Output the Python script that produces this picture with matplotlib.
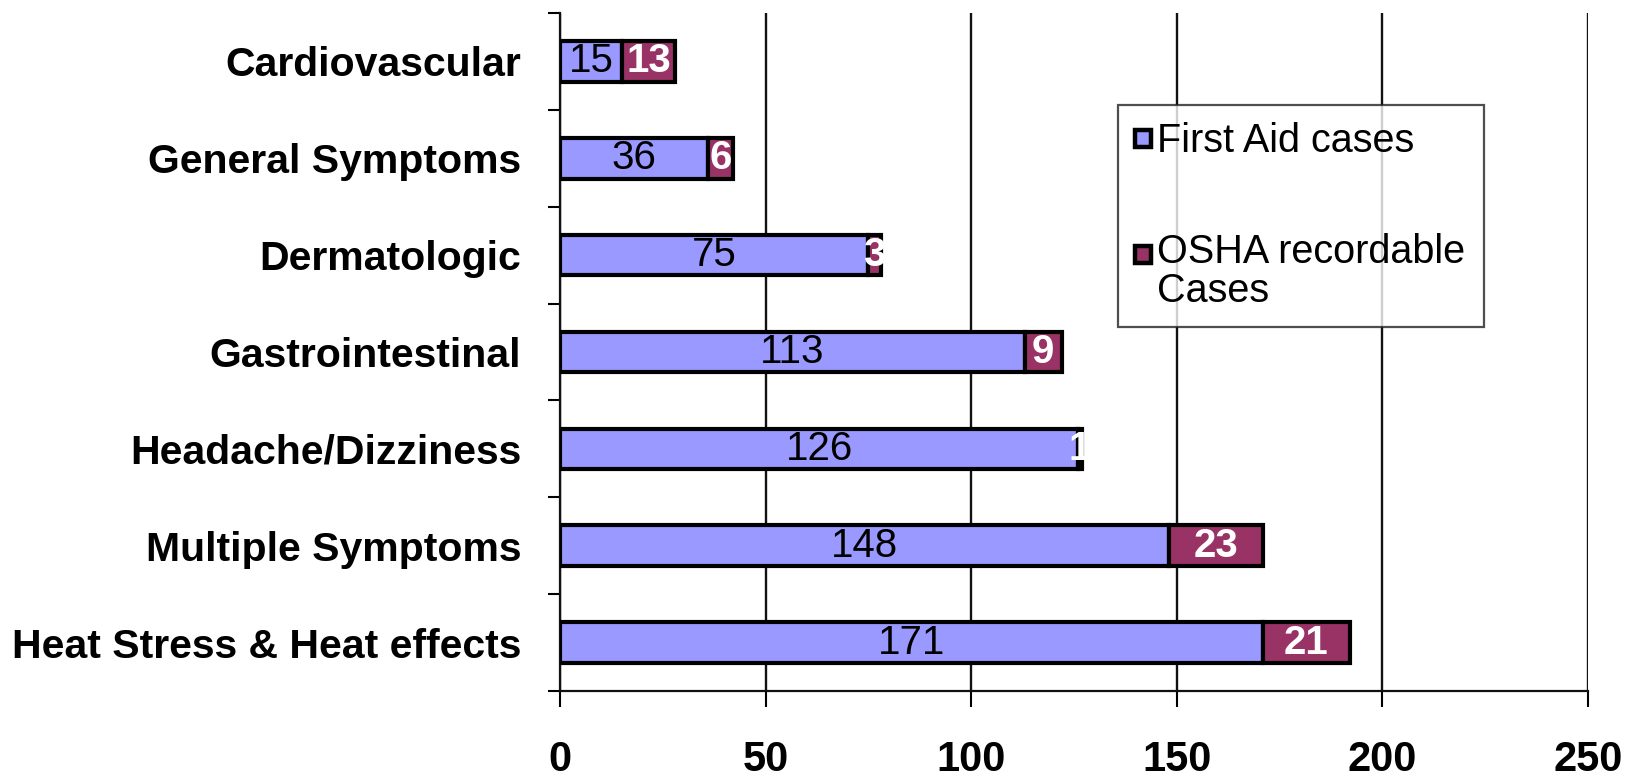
import matplotlib
import matplotlib.pyplot as plt
from matplotlib.legend_handler import HandlerPatch
from matplotlib.patches import Patch, Rectangle
from matplotlib.ticker import FixedLocator

matplotlib.use("Agg")

plt.rcParams["font.family"] = ["Liberation Sans", "DejaVu Sans"]

# Категории сверху вниз
categories = [
    "Cardiovascular",
    "General Symptoms",
    "Dermatologic",
    "Gastrointestinal",
    "Headache/Dizziness",
    "Multiple Symptoms",
    "Heat Stress & Heat effects",
]
first_aid = [15, 36, 75, 113, 126, 148, 171]
osha = [13, 6, 3, 9, 1, 23, 21]
x_ticks = [0, 50, 100, 150, 200, 250]
series_names = ["First Aid cases", "OSHA recordable\nCases"]

BLUE = "#9999FF"
PLUM = "#993366"

fig = plt.figure(figsize=(16.41, 7.78), dpi=100)
ax = fig.add_axes([560 / 1641, 1 - 691 / 778, (1588 - 560) / 1641, (691 - 13) / 778])

ypos = list(range(len(categories)))
b1 = ax.barh(ypos, first_aid, height=0.42, color=BLUE, edgecolor="black",
             linewidth=3.0, zorder=3)
b2 = ax.barh(ypos, osha, left=first_aid, height=0.42, color=PLUM, edgecolor="black",
             linewidth=3.0, zorder=3)

ax.bar_label(b1, label_type="center", fontsize=29, color="black")
ax.bar_label(b2, label_type="center", fontsize=29, color="white", fontweight="bold")

ax.set_xlim(0, 250)
ax.set_ylim(len(categories) - 0.5, -0.5)
ax.set_xticks(x_ticks)
ax.set_xticklabels([str(t) for t in x_ticks], fontsize=30, fontweight="bold")
ax.set_yticks(ypos)
ax.set_yticklabels(categories, fontsize=29.5, fontweight="bold")
ax.yaxis.set_minor_locator(FixedLocator([y - 0.5 for y in range(len(categories) + 1)]))

ax.tick_params(axis="y", which="major", length=0, pad=28)
ax.tick_params(axis="y", which="minor", length=9, width=1.5, direction="out")
ax.tick_params(axis="x", length=11.5, width=1.5, direction="out", pad=24)

for side in ("top", "right"):
    ax.spines[side].set_visible(False)
for side in ("left", "bottom"):
    ax.spines[side].set_linewidth(1.6)
    ax.spines[side].set_color("#111111")

ax.grid(axis="x", color="#111111", linewidth=1.7, zorder=0)
ax.set_axisbelow(True)


def square(legend, orig_handle, xdescent, ydescent, width, height, fontsize):
    return Rectangle((-xdescent, -ydescent + 0.5), width, width)


def top_line_square(legend, orig_handle, xdescent, ydescent, width, height, fontsize):
    # маркер на уровне первой строки двухстрочной подписи
    return Rectangle((-xdescent, -ydescent + 14.0), width, width)


h_first = Patch(facecolor=BLUE, edgecolor="black", linewidth=3.2)
h_osha = Patch(facecolor=PLUM, edgecolor="black", linewidth=3.2)

leg = fig.legend(
    [h_first, h_osha],
    series_names,
    handler_map={
        h_first: HandlerPatch(patch_func=square),
        h_osha: HandlerPatch(patch_func=top_line_square),
    },
    loc="upper left",
    bbox_to_anchor=(1118 / 1641, 1 - 322 / 778, 366 / 1641, 217 / 778),
    mode="expand",
    fontsize=28.5,
    frameon=True,
    fancybox=False,
    edgecolor="#222222",
    handlelength=0.42,
    handleheight=0.4,
    handletextpad=0.15,
    labelspacing=1.85,
    borderpad=0.42,
    borderaxespad=0,
)
leg.get_frame().set_linewidth(1.6)
leg.get_texts()[1].set_linespacing(1.05)

fig.savefig("out.png", dpi=100)
plt.close(fig)
